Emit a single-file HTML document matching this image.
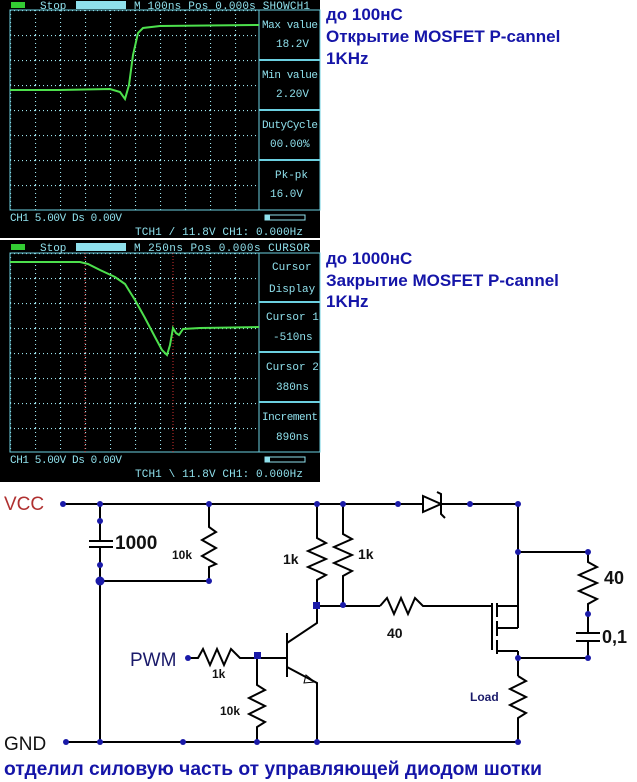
<!DOCTYPE html>
<html><head><meta charset="utf-8"><style>
html,body{margin:0;padding:0;background:#fff;width:637px;height:782px;overflow:hidden}
svg{display:block}
.s{font-family:"Liberation Mono",monospace;font-size:11px;fill:#8fe0ec}
.b{font-family:"Liberation Sans",sans-serif;font-weight:bold;font-size:17px;fill:#1515a8}
.c{font-family:"Liberation Sans",sans-serif;fill:#111}
</style></head><body>
<svg width="637" height="782" viewBox="0 0 637 782" xmlns="http://www.w3.org/2000/svg">
<defs>
<pattern id="g" x="10" y="10" width="25" height="25" patternUnits="userSpaceOnUse">
<line x1="0" y1="0.5" x2="25" y2="0.5" stroke="#9ee6f0" stroke-width="1.2" stroke-dasharray="1 3"/>
<line x1="0.5" y1="0" x2="0.5" y2="25" stroke="#9ee6f0" stroke-width="1.2" stroke-dasharray="1 3"/>
</pattern>
<pattern id="g2" x="10" y="253" width="25" height="25" patternUnits="userSpaceOnUse">
<line x1="0" y1="0.5" x2="25" y2="0.5" stroke="#9ee6f0" stroke-width="1.2" stroke-dasharray="1 3"/>
<line x1="0.5" y1="0" x2="0.5" y2="25" stroke="#9ee6f0" stroke-width="1.2" stroke-dasharray="1 3"/>
</pattern>
</defs>
<!-- Scope 1 -->
<rect x="0" y="0" width="320" height="238" fill="#000"/>
<rect x="10" y="10" width="249" height="200" fill="url(#g)" stroke="#6cd0e0"/>
<rect x="259" y="10" width="61" height="200" fill="none" stroke="#6cd0e0"/>
<line x1="259" y1="60" x2="320" y2="60" stroke="#6cd0e0" stroke-width="2"/>
<line x1="259" y1="110" x2="320" y2="110" stroke="#6cd0e0" stroke-width="2"/>
<line x1="259" y1="160" x2="320" y2="160" stroke="#6cd0e0" stroke-width="2"/>
<rect x="11" y="2" width="14" height="6" fill="#3c3"/>
<rect x="76" y="1" width="50" height="8" fill="#8fe0ec"/>
<text class="s" x="40" y="9">Stop</text>
<text class="s" x="134" y="9" textLength="176">M 100ns  Pos 0.000s  SHOWCH1</text>
<text class="s" x="262" y="28" textLength="56">Max value</text><text class="s" x="276" y="47">18.2V</text>
<text class="s" x="262" y="78" textLength="56">Min value</text><text class="s" x="276" y="97">2.20V</text>
<text class="s" x="262" y="128" textLength="56">DutyCycle</text><text class="s" x="270" y="147">00.00%</text>
<text class="s" x="275" y="178">Pk-pk</text><text class="s" x="270" y="197">16.0V</text>
<text class="s" x="10" y="221" textLength="112">CH1 5.00V  Ds 0.00V</text>
<text class="s" x="135" y="235" textLength="168">TCH1 /  11.8V   CH1: 0.000Hz</text>
<rect x="265" y="215" width="40" height="5" fill="none" stroke="#8fe0ec"/><rect x="265" y="215" width="5" height="5" fill="#8fe0ec"/>
<path d="M10 90 L60 90 L110 89 L120 92 L125 99 L129 85 L133 55 L138 33 L143 28 L160 26 L259 25" fill="none" stroke="#4de04d" stroke-width="2"/>
<!-- Scope 2 -->
<rect x="0" y="240" width="320" height="242" fill="#000"/>
<rect x="10" y="253" width="249" height="199" fill="url(#g2)" stroke="#6cd0e0"/>
<rect x="259" y="253" width="61" height="199" fill="none" stroke="#6cd0e0"/>
<line x1="259" y1="302" x2="320" y2="302" stroke="#6cd0e0" stroke-width="2"/>
<line x1="259" y1="352" x2="320" y2="352" stroke="#6cd0e0" stroke-width="2"/>
<line x1="259" y1="402" x2="320" y2="402" stroke="#6cd0e0" stroke-width="2"/>
<rect x="11" y="244" width="14" height="6" fill="#3c3"/>
<rect x="76" y="243" width="50" height="8" fill="#8fe0ec"/>
<text class="s" x="40" y="251">Stop</text>
<text class="s" x="134" y="251" textLength="176">M 250ns  Pos 0.000s  CURSOR</text>
<text class="s" x="272" y="270">Cursor</text><text class="s" x="269" y="292">Display</text>
<text class="s" x="266" y="320">Cursor 1</text><text class="s" x="273" y="340">-510ns</text>
<text class="s" x="266" y="370">Cursor 2</text><text class="s" x="276" y="390">380ns</text>
<text class="s" x="262" y="420" textLength="56">Increment</text><text class="s" x="276" y="440">890ns</text>
<text class="s" x="10" y="463" textLength="112">CH1 5.00V  Ds 0.00V</text>
<text class="s" x="135" y="477" textLength="168">TCH1 \  11.8V   CH1: 0.000Hz</text>
<rect x="265" y="457" width="40" height="5" fill="none" stroke="#8fe0ec"/><rect x="265" y="457" width="5" height="5" fill="#8fe0ec"/>
<line x1="85" y1="253" x2="85" y2="452" stroke="#d03030" stroke-dasharray="1 2"/>
<line x1="173" y1="253" x2="173" y2="452" stroke="#d03030" stroke-dasharray="1 2"/>
<path d="M10 262 L80 262 L88 264 L100 270 L115 277 L125 284 L135 300 L145 318 L155 337 L162 350 L167 355 L170 345 L173 328 L176 333 L179 335 L183 329 L200 328 L259 327" fill="none" stroke="#4de04d" stroke-width="2"/>
<!-- Right texts -->
<text class="b" x="326" y="20">до 100нС</text>
<text class="b" x="326" y="42">Открытие MOSFET P-cannel</text>
<text class="b" x="326" y="64">1KHz</text>
<text class="b" x="326" y="264">до 1000нС</text>
<text class="b" x="326" y="286">Закрытие MOSFET P-cannel</text>
<text class="b" x="326" y="307">1KHz</text>
<!-- Schematic -->
<g stroke="#000" stroke-width="2" fill="none">
<line x1="63" y1="504" x2="423" y2="504"/>
<line x1="441" y1="504" x2="518" y2="504"/>
<line x1="100" y1="504" x2="100" y2="541"/>
<line x1="100" y1="547" x2="100" y2="742"/>
<line x1="89" y1="541" x2="113" y2="541"/><line x1="89" y1="547" x2="113" y2="547"/>
<line x1="100" y1="581" x2="209" y2="581"/>
<path d="M209 504 L209 527 L216 532 L202 540 L216 548 L202 556 L216 564 L209 567 L209 581"/>
<path d="M317 504 L317 538 L326 543 L308 551 L326 559 L308 567 L326 575 L317 580 L317 606"/>
<path d="M343 504 L343 534 L352 539 L334 547 L352 555 L334 563 L352 571 L343 576 L343 606"/>
<line x1="317" y1="606" x2="380" y2="606"/>
<path d="M380 606 L387 598 L394 614 L401 598 L408 614 L415 598 L423 606 L492 606"/>
<line x1="492" y1="603" x2="492" y2="650"/>
<line x1="497" y1="603" x2="497" y2="617"/><line x1="497" y1="621" x2="497" y2="636"/><line x1="497" y1="640" x2="497" y2="654"/>
<line x1="497" y1="606" x2="518" y2="606"/>
<line x1="497" y1="628" x2="518" y2="628"/>
<line x1="497" y1="651" x2="518" y2="651"/>
<line x1="518" y1="504" x2="518" y2="628"/>
<line x1="518" y1="651" x2="518" y2="676"/>
<path d="M518 676 L526 681 L510 689 L526 697 L510 705 L526 713 L518 718 L518 742"/>
<line x1="518" y1="552" x2="588" y2="552"/>
<path d="M588 552 L588 562 L597 567 L579 575 L597 583 L579 591 L597 599 L588 604 L588 633"/>
<line x1="576" y1="633" x2="600" y2="633"/><line x1="576" y1="641" x2="600" y2="641"/>
<line x1="588" y1="641" x2="588" y2="658"/>
<line x1="518" y1="658" x2="588" y2="658"/>
<path d="M423 496 L423 512 L441 504 Z"/>
<path d="M437 492 L441 494 L441 514 L445 518"/>
<line x1="287" y1="633" x2="287" y2="677"/>
<path d="M287 643 L317 623 L317 606"/>
<path d="M287 667 L317 683 L317 742"/>
<path d="M306 675 L315 682 L304 683 Z" stroke-width="1"/>
<path d="M188 658 L198 658 L203 649 L210 665 L217 649 L224 665 L231 649 L240 658 L287 658"/>
<path d="M257 658 L257 685 L265 690 L249 698 L265 706 L249 714 L265 722 L257 727 L257 742"/>
<line x1="66" y1="742" x2="518" y2="742"/>
</g>
<g fill="#1a1aa8">
<circle cx="63" cy="504" r="3"/><circle cx="100" cy="504" r="3"/><circle cx="100" cy="521" r="3"/><circle cx="100" cy="565" r="3"/><circle cx="100" cy="581" r="4.5"/>
<circle cx="209" cy="504" r="3"/><circle cx="209" cy="581" r="3"/>
<circle cx="317" cy="504" r="3"/><circle cx="343" cy="504" r="3"/><circle cx="398" cy="504" r="3"/><circle cx="470" cy="504" r="3"/><circle cx="518" cy="504" r="3"/>
<rect x="313" y="602" width="7" height="7"/><circle cx="343" cy="605" r="3"/>
<circle cx="518" cy="552" r="3"/><circle cx="588" cy="552" r="3"/><circle cx="588" cy="614" r="3"/><circle cx="588" cy="658" r="3"/><circle cx="518" cy="658" r="3"/>
<circle cx="188" cy="658" r="3"/><rect x="254" y="652" width="7" height="7"/>
<circle cx="66" cy="742" r="3"/><circle cx="100" cy="742" r="3"/><circle cx="183" cy="742" r="3"/><circle cx="257" cy="742" r="3"/><circle cx="317" cy="742" r="3"/><circle cx="518" cy="742" r="3"/>
</g>
<text class="c" x="4" y="510" font-size="19" style="fill:#b03030">VCC</text>
<text class="c" x="4" y="750" font-size="19">GND</text>
<text class="c" x="130" y="666" font-size="19" style="fill:#1a1a6a">PWM</text>
<text class="c" x="115" y="549" font-size="19" font-weight="bold">1000</text>
<text class="c" x="172" y="559" font-size="12" font-weight="bold">10k</text>
<text class="c" x="283" y="564" font-size="14" font-weight="bold">1k</text>
<text class="c" x="358" y="559" font-size="14" font-weight="bold">1k</text>
<text class="c" x="387" y="638" font-size="14" font-weight="bold">40</text>
<text class="c" x="212" y="678" font-size="12" font-weight="bold">1k</text>
<text class="c" x="220" y="715" font-size="12" font-weight="bold">10k</text>
<text class="c" x="470" y="701" font-size="12" font-weight="bold" style="fill:#1a1a6a">Load</text>
<text class="c" x="604" y="584" font-size="18" font-weight="bold">40</text>
<text class="c" x="602" y="643" font-size="18" font-weight="bold">0,1</text>
<text class="b" x="4" y="775" style="font-size:19px" textLength="538" lengthAdjust="spacingAndGlyphs">отделил силовую часть от управляющей диодом шотки</text>
</svg>
</body></html>
